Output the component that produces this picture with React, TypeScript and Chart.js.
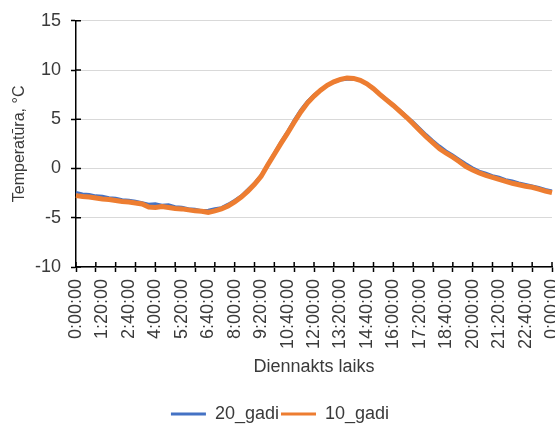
import { useEffect, useRef } from 'react';
import { Chart, registerables } from 'chart.js';

Chart.register(...registerables);

const categories = [
  '0:00:00', '0:20:00', '0:40:00', '1:00:00', '1:20:00', '1:40:00', '2:00:00', '2:20:00', '2:40:00',
  '3:00:00', '3:20:00', '3:40:00', '4:00:00', '4:20:00', '4:40:00', '5:00:00', '5:20:00', '5:40:00',
  '6:00:00', '6:20:00', '6:40:00', '7:00:00', '7:20:00', '7:40:00', '8:00:00', '8:20:00', '8:40:00',
  '9:00:00', '9:20:00', '9:40:00', '10:00:00', '10:20:00', '10:40:00', '11:00:00', '11:20:00', '11:40:00',
  '12:00:00', '12:20:00', '12:40:00', '13:00:00', '13:20:00', '13:40:00', '14:00:00', '14:20:00', '14:40:00',
  '15:00:00', '15:20:00', '15:40:00', '16:00:00', '16:20:00', '16:40:00', '17:00:00', '17:20:00', '17:40:00',
  '18:00:00', '18:20:00', '18:40:00', '19:00:00', '19:20:00', '19:40:00', '20:00:00', '20:20:00', '20:40:00',
  '21:00:00', '21:20:00', '21:40:00', '22:00:00', '22:20:00', '22:40:00', '23:00:00', '23:20:00', '23:40:00',
  '0:00:00',
];

const gadi20 = [
  -2.4, -2.55, -2.6, -2.75, -2.8, -2.95, -3.0, -3.15, -3.2,
  -3.3, -3.45, -3.6, -3.55, -3.7, -3.65, -3.85, -3.9, -4.05,
  -4.1, -4.25, -4.2, -4.05, -3.95, -3.6, -3.2, -2.75, -2.1,
  -1.45, -0.65, 0.5, 1.6, 2.75, 3.8, 4.95, 6.0, 6.85,
  7.5, 8.05, 8.45, 8.75, 8.95, 9.05, 9.05, 8.9, 8.55,
  8.1, 7.6, 7.05, 6.5, 5.95, 5.35, 4.75, 4.1, 3.45,
  2.85, 2.3, 1.8, 1.4, 0.95, 0.5, 0.1, -0.25, -0.45,
  -0.7, -0.85, -1.1, -1.25, -1.45, -1.6, -1.75, -1.9, -2.1,
  -2.25,
];

const gadi10 = [
  -2.75, -2.85, -2.9, -3.0, -3.1, -3.15, -3.25, -3.35, -3.4,
  -3.5, -3.6, -3.9, -3.95, -3.85, -3.95, -4.05, -4.1, -4.2,
  -4.3, -4.35, -4.45, -4.3, -4.1, -3.8, -3.4, -2.9, -2.3,
  -1.6, -0.8, 0.35, 1.45, 2.55, 3.6, 4.7, 5.75, 6.65,
  7.35, 7.95, 8.45, 8.8, 9.05, 9.2, 9.15, 8.95, 8.6,
  8.1, 7.5, 6.95, 6.4, 5.8, 5.2, 4.55, 3.85, 3.2,
  2.6, 2.0, 1.55, 1.15, 0.7, 0.2, -0.15, -0.45, -0.7,
  -0.9, -1.1, -1.3, -1.5, -1.65, -1.8, -1.9, -2.1, -2.3,
  -2.45,
];

const yMin = -10;
const yMax = 15;
const yStep = 5;
const labelEvery = 4; // every 80 minutes
const tickEvery = 3; // every hour

const FONT = '"Liberation Sans", Arial, sans-serif';
const TEXT = '#3a3a3a';

export default function App() {
  const ref = useRef<HTMLCanvasElement>(null);

  useEffect(() => {
    document.body.style.margin = '0';
    document.body.style.overflow = 'hidden';

    const crossTicks = {
      id: 'crossTicks',
      afterLayout(chart: any) {
        if (chart.legend) {
          chart.legend.top += 9;
          chart.legend.bottom += 9;
        }
      },
      afterDraw(chart: any) {
        const { ctx, chartArea, scales } = chart;
        ctx.save();
        ctx.strokeStyle = '#000';
        ctx.lineWidth = 1.5;
        ctx.beginPath();
        scales.x.ticks.forEach((_t: any, i: number) => {
          if (i % tickEvery !== 0) return;
          const px = scales.x.getPixelForTick(i);
          ctx.moveTo(px, chartArea.bottom);
          ctx.lineTo(px, chartArea.bottom - 5);
        });
        scales.y.ticks.forEach((t: any) => {
          const py = scales.y.getPixelForValue(t.value);
          ctx.moveTo(chartArea.left, py);
          ctx.lineTo(chartArea.left + 5, py);
        });
        ctx.stroke();
        ctx.restore();
      },
    };

    const chart = new Chart(ref.current!, {
      type: 'line',
      data: {
        labels: categories,
        datasets: [
          {
            label: '20_gadi',
            data: gadi20,
            borderColor: '#4472C4',
            backgroundColor: '#4472C4',
            borderWidth: 2.5,
            pointRadius: 0,
            order: 2,
          },
          {
            label: '10_gadi',
            data: gadi10,
            borderColor: '#ED7D31',
            backgroundColor: '#ED7D31',
            borderWidth: 5,
            pointRadius: 0,
            order: 1,
          },
        ],
      },
      options: {
        animation: false,
        responsive: false,
        layout: { padding: { top: 17, left: 0, right: 0, bottom: 0 } },
        plugins: {
          tooltip: { enabled: false },
          legend: {
            position: 'bottom',
            labels: {
              boxWidth: 35,
              boxHeight: 3,
              padding: 2,
              color: TEXT,
              font: { family: FONT, size: 18 },
              sort: (a: any, b: any) => a.datasetIndex - b.datasetIndex,
              generateLabels: (c: any) =>
                Chart.defaults.plugins.legend.labels
                  .generateLabels(c)
                  .map((l: any) => ({ ...l, lineWidth: 0, fillStyle: l.strokeStyle })),
            },
          },
        },
        scales: {
          x: {
            type: 'category',
            offset: false,
            grid: {
              drawOnChartArea: false,
              tickLength: 5,
              tickWidth: 1.5,
              tickColor: (ctx: any) => (ctx.index % tickEvery === 0 ? '#000' : 'rgba(0,0,0,0)'),
            },
            border: { color: '#000', width: 1.5 },
            ticks: {
              autoSkip: false,
              maxRotation: 90,
              minRotation: 90,
              padding: 7,
              color: TEXT,
              font: { family: FONT, size: 18 },
              callback: (_v: any, i: number) => (i % labelEvery === 0 ? categories[i] : ''),
            },
            title: {
              display: true,
              text: 'Diennakts laiks',
              color: TEXT,
              font: { family: FONT, size: 18 },
              padding: { top: 6, bottom: 16 },
            },
            afterFit: (s: any) => {
              s.height = 127;
              s.paddingRight = 8;
            },
          },
          y: {
            min: yMin,
            max: yMax,
            ticks: {
              stepSize: yStep,
              padding: 10,
              color: TEXT,
              font: { family: FONT, size: 18 },
            },
            grid: {
              color: '#d9d9d9',
              lineWidth: 1,
              tickLength: 5,
              tickWidth: 1.5,
              tickColor: '#000',
            },
            border: { color: '#000', width: 1.5 },
            title: {
              display: true,
              text: 'Temperatūra, °C',
              color: TEXT,
              font: { family: FONT, size: 16 },
              padding: { top: 10, bottom: 0 },
            },
            afterFit: (s: any) => {
              s.width = 76;
            },
          },
        },
      },
      plugins: [crossTicks],
    });

    return () => chart.destroy();
  }, []);

  return (
    <div style={{ width: 555, height: 424, overflow: 'hidden' }}>
      <canvas ref={ref} width={560} height={424} style={{ display: 'block' }} />
    </div>
  );
}
